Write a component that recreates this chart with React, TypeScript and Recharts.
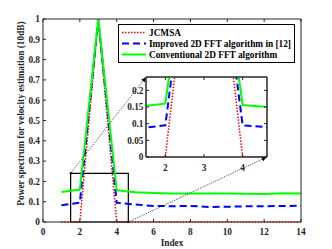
import { LineChart, Line, XAxis, YAxis, ReferenceArea, ReferenceLine, Legend, CartesianGrid } from 'recharts';

const indexes = [1, 2, 3, 4, 5, 6, 7, 8, 9, 10, 11, 12, 13, 14];
const jcmsa = [0, 0, 1, 0, 0, 0, 0, 0, 0, 0, 0, 0, 0, 0];
const improved = [0.082, 0.095, 1, 0.095, 0.086, 0.079, 0.078, 0.079, 0.074, 0.075, 0.077, 0.078, 0.079, 0.08];
const conventional = [0.148, 0.16, 1, 0.156, 0.146, 0.143, 0.141, 0.14, 0.14, 0.14, 0.139, 0.138, 0.142, 0.141];

const xTicks = [0, 2, 4, 6, 8, 10, 12, 14];
const yTicks = [0, 0.1, 0.2, 0.3, 0.4, 0.5, 0.6, 0.7, 0.8, 0.9, 1];
const zoomXTicks = [2, 3, 4];
const zoomYTicks = [0, 0.05, 0.1, 0.15, 0.2];
const zoomX = [1.5, 4.63];
const zoomY = [0, 0.24];

const seriesNames = ['JCMSA', 'Improved 2D FFT algorithm in [12]', 'Conventional 2D FFT algorithm'];
const seriesColors = ['#ff0000', '#0000ff', '#00ff00'];
const seriesDash = ['1.5 1.5', '7 4', undefined];
const seriesWidth = [1.5, 2, 2];

const rows = indexes.map((x, i) => ({ x, a: jcmsa[i], b: improved[i], c: conventional[i] }));

const font = { fontFamily: '"Liberation Serif", "Times New Roman", serif', fontWeight: 'bold' as const };
const tickStyle = { ...font, fontSize: 9.3, fill: '#262626' };
const axisColor = '#262626';

// arrow from zoom box corner to inset corner (coords in main-axis units)
const Arrow = (props: any) => {
  const { x1, y1, x2, y2 } = props;
  const a = Math.atan2(y2 - y1, x2 - x1);
  const L = 5, W = 2.2;
  const bx = x2 - L * Math.cos(a), by = y2 - L * Math.sin(a);
  const pts = `${x2},${y2} ${bx - W * Math.sin(a)},${by + W * Math.cos(a)} ${bx + W * Math.sin(a)},${by - W * Math.cos(a)}`;
  return (
    <g>
      <line x1={x1} y1={y1} x2={bx} y2={by} stroke="#000" strokeWidth={0.7} strokeDasharray="1.2 1.2" />
      <polygon points={pts} fill="#000" />
      <rect x={x1 - 1} y={y1 - 1} width={2} height={2} fill="#000" />
    </g>
  );
};

const renderLegend = () => (
  <div style={{ border: '1px solid #000', background: '#fff', width: 175, padding: '2px 0', ...font, fontSize: 9.3, color: '#000' }}>
    {seriesNames.map((n, i) => (
      <div key={n} style={{ display: 'flex', alignItems: 'center', height: 11 }}>
        <svg width={28} height={11} style={{ marginLeft: 2 }}>
          <line x1={1} y1={5.5} x2={25} y2={5.5} stroke={seriesColors[i]} strokeWidth={seriesWidth[i]} strokeDasharray={seriesDash[i]} />
        </svg>
        <span style={{ whiteSpace: 'nowrap' }}>{n}</span>
      </div>
    ))}
  </div>
);

const yLabel = (p: any) => {
  const vb = p.viewBox;
  const cx = vb.x + vb.width / 2 - 1;
  const cy = vb.y + vb.height / 2 - 7;
  return (
    <text x={cx} y={cy} transform={`rotate(-90 ${cx} ${cy})`} textAnchor="middle" dominantBaseline="central" {...font} fontSize={9.3} fill="#262626">
      Power spectrum for velocity estimation (10dB)
    </text>
  );
};

export default function App() {
  const keys = ['a', 'b', 'c'];
  return (
    <div style={{ position: 'absolute', left: 0, top: 0, width: 332, height: 249, background: '#fff' }}>
      <LineChart width={332} height={249} data={rows} margin={{ top: 18, right: 30, bottom: 0, left: 0 }}>
        <XAxis dataKey="x" type="number" domain={[0, 14]} ticks={xTicks} height={27} tickSize={-3} tickMargin={9}
          stroke={axisColor} tick={tickStyle}
          label={{ value: 'Index', position: 'insideBottom', offset: 3, ...font, fontSize: 9.3, fill: '#262626' }} />
        <XAxis xAxisId="top" orientation="top" dataKey="x" type="number" domain={[0, 14]} ticks={xTicks} height={1}
          tickSize={-3} stroke={axisColor} tickFormatter={() => ''} />
        <YAxis type="number" domain={[0, 1]} ticks={yTicks} width={43} tickSize={-3} tickMargin={6}
          stroke={axisColor} tick={tickStyle} label={{ content: yLabel }} />
        <YAxis yAxisId="right" orientation="right" type="number" domain={[0, 1]} ticks={yTicks} width={1}
          tickSize={-3} stroke={axisColor} tickFormatter={() => ''} />
        <Legend layout="vertical" align="center" verticalAlign="middle" content={renderLegend}
          wrapperStyle={{ position: 'absolute', left: 118, top: 24, width: 'auto', height: 'auto' }} />
        {keys.map((k, i) => (
          <Line key={k} dataKey={k} name={seriesNames[i]} stroke={seriesColors[i]} strokeWidth={seriesWidth[i]}
            strokeDasharray={seriesDash[i]} dot={false} isAnimationActive={false} />
        ))}
        <ReferenceArea x1={zoomX[0]} x2={zoomX[1]} y1={zoomY[0]} y2={zoomY[1]} fill="none" stroke="#000" strokeWidth={1.2} fillOpacity={0} />
        <ReferenceLine segment={[{ x: zoomX[0], y: zoomY[1] }, { x: 5.59, y: 0.714 }]} shape={Arrow} />
        <ReferenceLine segment={[{ x: zoomX[1], y: zoomY[0] }, { x: 12.14, y: 0.32 }]} shape={Arrow} />
      </LineChart>
      <div style={{ position: 'absolute', left: 110, top: 70 }}>
        <LineChart width={160} height={110} data={rows} margin={{ top: 6, right: 2, bottom: 0, left: 0 }}>
          <CartesianGrid horizontal={false} vertical={false} fill="#fff" />
          <XAxis dataKey="x" type="number" domain={zoomX} allowDataOverflow ticks={zoomXTicks} height={23}
            tickSize={-3} tickMargin={10} stroke={axisColor} tick={tickStyle} />
          <XAxis xAxisId="top" orientation="top" dataKey="x" type="number" domain={zoomX} allowDataOverflow ticks={zoomXTicks}
            height={1} tickSize={-3} stroke={axisColor} tickFormatter={() => ''} />
          <YAxis type="number" domain={zoomY} allowDataOverflow ticks={zoomYTicks} width={36} tickSize={-3} tickMargin={5.5}
            stroke={axisColor} tick={tickStyle} />
          <YAxis yAxisId="right" orientation="right" type="number" domain={zoomY} allowDataOverflow ticks={zoomYTicks}
            width={1} tickSize={-3} stroke={axisColor} tickFormatter={() => ''} />
          {keys.map((k, i) => (
            <Line key={k} dataKey={k} stroke={seriesColors[i]} strokeWidth={seriesWidth[i]}
              strokeDasharray={seriesDash[i]} dot={false} isAnimationActive={false} />
          ))}
          <ReferenceArea x1={zoomX[0]} x2={zoomX[1]} y1={zoomY[0]} y2={zoomY[1]} fill="none" stroke={axisColor} strokeWidth={1} fillOpacity={0} />
        </LineChart>
      </div>
    </div>
  );
}
